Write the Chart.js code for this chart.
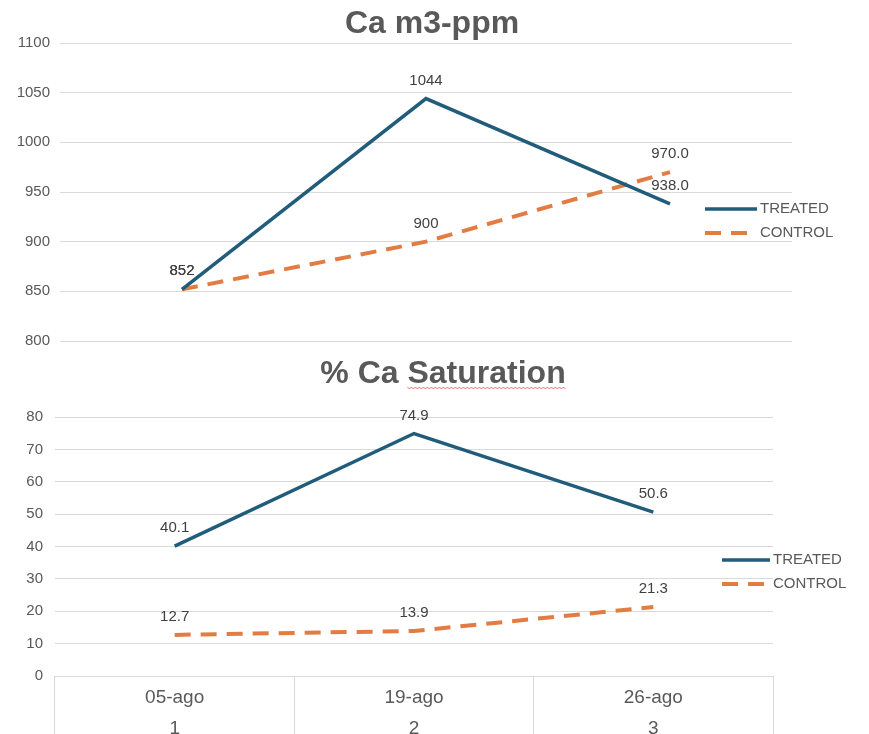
<!DOCTYPE html>
<html>
<head>
<meta charset="utf-8">
<title>Ca m3-ppm / % Ca Saturation</title>
<script src="https://cdn.jsdelivr.net/npm/chart.js@4/dist/chart.umd.min.js"></script>
<style>
  html, body { margin: 0; padding: 0; background: #ffffff; overflow: hidden; width: 869px; height: 734px; }
  .box { position: absolute; left: 0; width: 869px; }
  #topBox { top: 0; height: 360px; }
  #botBox { top: 355px; height: 400px; }
</style>
</head>
<body>
<div class="box" id="topBox"><canvas id="calcium" width="869" height="360"></canvas></div>
<div class="box" id="botBox"><canvas id="saturation" width="869" height="400"></canvas></div>
<script>
// Sampling dates and sample numbers (two-level category axis)
const dates = ['05-ago', '19-ago', '26-ago'];
const sampleNumbers = ['1', '2', '3'];
const seriesNames = ['TREATED', 'CONTROL'];

// Ca m3 (ppm)
const caTreated = [852, 1044, 938];
const caControl = [852, 900, 970];
const caDecimals = [0, 0, 1];

// % Ca saturation
const satTreated = [40.1, 74.9, 50.6];
const satControl = [12.7, 13.9, 21.3];
const satDecimals = [1, 1, 1];

// Value axis ranges: min, max, step
const caAxis = [800, 1100, 50];
const satAxis = [0, 80, 10];

const FONT = '"Liberation Sans", Arial, sans-serif';
const TEAL = '#215d7a';
const ORANGE = '#e27c43';
const GRID = '#d9d9d9';
const TEXT = '#595959';

// Chart heading drawn at a fixed spot, with an optional wavy underline
const heading = {
  id: 'heading',
  afterDraw(chart, args, o) {
    const ctx = chart.ctx;
    ctx.save();
    ctx.font = 'bold 32px ' + FONT;
    ctx.fillStyle = TEXT;
    ctx.textAlign = 'center';
    ctx.textBaseline = 'middle';
    ctx.fillText(o.text, o.cx, o.cy);
    if (o.wavyFrom) {
      const full = ctx.measureText(o.text).width;
      const start = o.cx - full / 2 + ctx.measureText(o.wavyFrom).width;
      const end = o.cx + full / 2;
      const y = o.cy + 14;
      ctx.strokeStyle = '#e07070';
      ctx.lineWidth = 1;
      ctx.beginPath();
      for (let x = start, k = 0; x <= end; x += 2, k++) {
        const yy = y + (k % 2 ? 1 : -1);
        if (k === 0) ctx.moveTo(x, yy); else ctx.lineTo(x, yy);
      }
      ctx.stroke();
    }
    ctx.restore();
  }
};

// Value labels above each point
const valueLabels = {
  id: 'valueLabels',
  afterDatasetsDraw(chart, args, o) {
    const ctx = chart.ctx;
    ctx.save();
    ctx.font = '15px ' + FONT;
    ctx.fillStyle = '#404040';
    ctx.textAlign = 'center';
    ctx.textBaseline = 'middle';
    chart.data.datasets.forEach((ds, di) => {
      const meta = chart.getDatasetMeta(di);
      meta.data.forEach((pt, i) => {
        ctx.fillText(ds.data[i].toFixed(o.decimals[i]), pt.x, pt.y - 18);
      });
    });
    ctx.restore();
  }
};

// Series key on the right
const seriesKey = {
  id: 'seriesKey',
  afterDraw(chart, args, o) {
    const ctx = chart.ctx;
    ctx.save();
    chart.data.datasets.forEach((ds, di) => {
      const y = o.y + di * o.gap;
      ctx.strokeStyle = ds.borderColor;
      ctx.lineWidth = ds.borderWidth;
      ctx.setLineDash(ds.borderDash || []);
      ctx.beginPath();
      ctx.moveTo(o.x, y);
      ctx.lineTo(o.x + o.len, y);
      ctx.stroke();
      ctx.setLineDash([]);
      ctx.font = '15px ' + FONT;
      ctx.fillStyle = TEXT;
      ctx.textAlign = 'left';
      ctx.textBaseline = 'middle';
      ctx.fillText(ds.label, o.x + o.len + 3, y);
    });
    ctx.restore();
  }
};

function series(treated, control) {
  return [
    { label: seriesNames[0], data: treated, borderColor: TEAL, borderWidth: 3.5,
      pointRadius: 0, tension: 0, fill: false },
    { label: seriesNames[1], data: control, borderColor: ORANGE, borderWidth: 4,
      borderDash: [16, 10], pointRadius: 0, tension: 0, fill: false }
  ];
}

function yScale(range, axisWidth, pad) {
  return {
    min: range[0], max: range[1],
    border: { display: false },
    grid: { color: GRID, lineWidth: 1, drawTicks: false },
    ticks: { stepSize: range[2], padding: pad, color: TEXT, font: { family: FONT, size: 15 },
             callback: (v) => String(v) },
    afterFit(s) { s.width = axisWidth; }
  };
}

new Chart(document.getElementById('calcium'), {
  type: 'line',
  data: { labels: dates, datasets: series(caTreated, caControl) },
  plugins: [heading, valueLabels, seriesKey],
  options: {
    responsive: false,
    animation: false,
    layout: { padding: { top: 43, bottom: 13, left: 0, right: 77 } },
    scales: {
      x: { display: false, offset: true },
      y: yScale(caAxis, 60, 10)
    },
    plugins: {
      legend: { display: false },
      tooltip: { enabled: false },
      heading: { text: 'Ca m3-ppm', cx: 432, cy: 24 },
      valueLabels: { decimals: caDecimals },
      seriesKey: { x: 705, y: 209, gap: 24, len: 52 }
    }
  }
});

new Chart(document.getElementById('saturation'), {
  type: 'line',
  data: {
    labels: dates.map((d, i) => [d, sampleNumbers[i]]),
    datasets: series(satTreated, satControl)
  },
  plugins: [heading, valueLabels, seriesKey],
  options: {
    responsive: false,
    animation: false,
    layout: { padding: { top: 62, bottom: 19, left: 0, right: 96 } },
    scales: {
      x: {
        offset: true,
        border: { display: false },
        grid: { display: true, offset: true, drawOnChartArea: false, drawTicks: true,
                tickLength: 80, color: GRID, lineWidth: 1 },
        ticks: { padding: -73, color: TEXT, font: { family: FONT, size: 19, lineHeight: 1.6 } },
        afterFit(s) { s.height = 60; }
      },
      y: yScale(satAxis, 55, 12)
    },
    plugins: {
      legend: { display: false },
      tooltip: { enabled: false },
      heading: { text: '% Ca Saturation', cx: 443, cy: 19, wavyFrom: '% Ca ' },
      valueLabels: { decimals: satDecimals },
      seriesKey: { x: 722, y: 205, gap: 24, len: 48 }
    }
  }
});
</script>
</body>
</html>
